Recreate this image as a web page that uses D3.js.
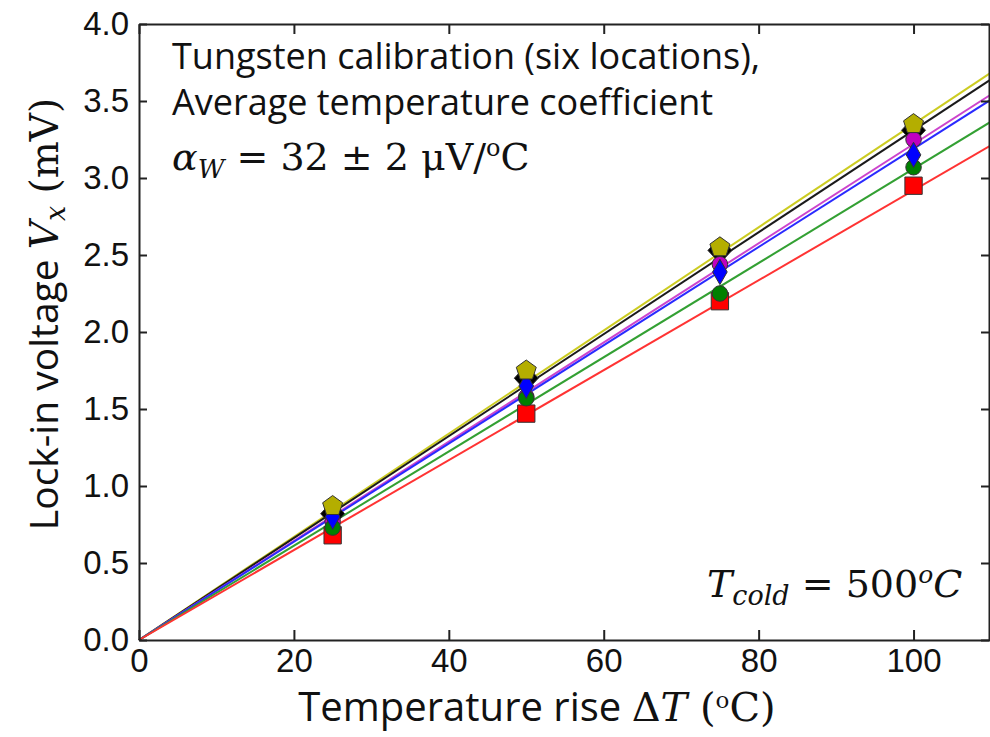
<!DOCTYPE html>
<html>
<head>
<meta charset="utf-8">
<script src="https://cdn.jsdelivr.net/npm/d3@7"></script>
<style>
  body { margin: 0; background: #fff; }
</style>
</head>
<body>
<div id="chart"></div>
<script>
// data
var temps = [25, 50, 75, 100];
var vYellow  = [0.87, 1.75, 2.55, 3.35];
var vBlack   = [0.82, 1.70, 2.53, 3.31];
var vMagenta = [0.77, 1.58, 2.44, 3.25];
var vBlue    = [0.80, 1.65, 2.39, 3.15];
var vGreen   = [0.73, 1.57, 2.25, 3.07];
var vRed     = [0.68, 1.47, 2.20, 2.95];
// fitted slopes (mV per degC) of the lines through the origin
var slopes = [0.0335, 0.0331, 0.0322, 0.0319, 0.0306, 0.0292];
var xTicks = [0, 20, 40, 60, 80, 100];
var yTicks = [0, 0.5, 1.0, 1.5, 2.0, 2.5, 3.0, 3.5, 4.0];

var lineColors = ["#cccc22", "#1a1a1a", "#cc44cc", "#2a2aff", "#33a033", "#ff3333"];
var fillColors = ["#b4ae00", "#000000", "#c000c0", "#0000ff", "#008000", "#ff0000"];
var shapes = ["pentagon", "bigdiamond", "circle", "diamond", "circle", "square"];
var allValues = [vYellow, vBlack, vMagenta, vBlue, vGreen, vRed];
// marker stacking seen in the picture: black under everything, yellow on top
var drawOrder = [1, 2, 5, 4, 3, 0];

var width = 990, height = 737;
var margin = {left: 139, right: 0, top: 24, bottom: 97};

var svg = d3.select("#chart").append("svg")
    .attr("width", width)
    .attr("height", height);

var x = d3.scaleLinear().domain([0, 110]).range([margin.left, 991]);
var y = d3.scaleLinear().domain([0, 4.0]).range([height - margin.bottom, margin.top]);

// fit lines (drawn first, markers on top)
slopes.forEach(function(s, i) {
    svg.append("line")
        .attr("x1", x(0)).attr("y1", y(0))
        .attr("x2", x(110)).attr("y2", y(s * 110))
        .attr("stroke", lineColors[i])
        .attr("stroke-width", 2);
});

// axes box with inward ticks
var fmtY = d3.format(".1f");
var tickFont = "Liberation Sans, Arial, sans-serif";
svg.append("g")
    .attr("transform", "translate(0," + y(0) + ")")
    .call(d3.axisBottom(x).tickValues(xTicks).tickSizeInner(-10).tickSizeOuter(0).tickPadding(9))
    .call(function(g) {
        g.selectAll("text").attr("font-size", 33).attr("font-family", tickFont).attr("fill", "#111");
    });
svg.append("g")
    .attr("transform", "translate(0," + y(4.0) + ")")
    .call(d3.axisTop(x).tickValues(xTicks).tickSizeInner(-10).tickSizeOuter(0).tickFormat(""));
svg.append("g")
    .attr("transform", "translate(" + x(0) + ",0)")
    .call(d3.axisLeft(y).tickValues(yTicks).tickFormat(fmtY).tickSizeInner(-8).tickSizeOuter(0).tickPadding(10))
    .call(function(g) {
        g.selectAll("text").attr("font-size", 33).attr("font-family", tickFont).attr("fill", "#111");
    });
svg.append("g")
    .attr("transform", "translate(" + (width - 1) + ",0)")
    .call(d3.axisRight(y).tickValues(yTicks).tickSizeInner(-8).tickSizeOuter(0).tickFormat(""));

svg.selectAll(".domain").attr("stroke", "#222").attr("stroke-width", 2);
svg.selectAll(".tick line").attr("stroke", "#222").attr("stroke-width", 2);

function pentagonPath(r) {
    var pts = [];
    for (var k = 0; k < 5; k++) {
        var a = -Math.PI / 2 + k * 2 * Math.PI / 5;
        pts.push([r * Math.cos(a), r * Math.sin(a)]);
    }
    return "M" + pts.map(function(p) { return p.join(","); }).join("L") + "Z";
}
function markerPath(shape) {
    if (shape === "pentagon") return pentagonPath(10.5);
    if (shape === "bigdiamond") return "M0,-13L12,0L0,13L-12,0Z";
    if (shape === "diamond") return d3.symbol().type(d3.symbolDiamond).size(185)();
    if (shape === "circle") return d3.symbol().type(d3.symbolCircle).size(190)();
    return d3.symbol().type(d3.symbolSquare).size(300)();
}

drawOrder.forEach(function(i) {
    var vals = allValues[i];
    svg.append("g").selectAll("path")
        .data(temps.map(function(t, j) { return [t, vals[j]]; }))
        .enter().append("path")
        .attr("transform", function(d) { return "translate(" + x(d[0]) + "," + y(d[1]) + ")"; })
        .attr("d", markerPath(shapes[i]))
        .attr("fill", fillColors[i])
        .attr("stroke", "#333")
        .attr("stroke-width", 1);
});

// axis titles
var textFont = "Open Sans, Noto Sans, sans-serif";
var mathFont = "DejaVu Serif, serif";
svg.append("text")
    .attr("x", 537).attr("y", 721)
    .attr("text-anchor", "middle")
    .attr("font-family", textFont)
    .attr("font-size", 40)
    .attr("fill", "#111")
    .html('Temperature rise <tspan font-family="' + mathFont + '">Δ<tspan font-style="italic">T</tspan> (<tspan baseline-shift="super" font-size="23">o</tspan>C)</tspan>');

svg.append("text")
    .attr("transform", "translate(58,314) rotate(-90)")
    .attr("text-anchor", "middle")
    .attr("font-family", textFont)
    .attr("font-size", 39)
    .attr("fill", "#111")
    .html('Lock-in voltage <tspan font-family="' + mathFont + '"><tspan font-style="italic">V</tspan><tspan font-style="italic" font-size="27" dy="7">x</tspan><tspan dy="-7"> (mV)</tspan></tspan>');

// annotations
var note = svg.append("g")
    .attr("font-family", textFont)
    .attr("font-size", 36)
    .attr("fill", "#111");
note.append("text").attr("x", 172).attr("y", 69).text("Tungsten calibration (six locations),");
note.append("text").attr("x", 172).attr("y", 115).text("Average temperature coefficient");
note.append("text").attr("x", 172).attr("y", 170)
    .attr("font-family", mathFont)
    .attr("font-size", 38)
    .html('<tspan font-style="italic">α</tspan><tspan font-style="italic" font-size="26" dy="8">W</tspan><tspan dy="-8"> = 32 ± 2 μV/</tspan><tspan baseline-shift="super" font-size="24">o</tspan>C');

svg.append("text")
    .attr("x", 707).attr("y", 597)
    .attr("font-family", mathFont)
    .attr("font-size", 38)
    .attr("fill", "#111")
    .html('<tspan font-style="italic">T</tspan><tspan font-style="italic" font-size="27" dy="8">cold</tspan><tspan dy="-8"> = 500</tspan><tspan font-style="italic" baseline-shift="super" font-size="25">o</tspan><tspan font-style="italic">C</tspan>');
</script>
</body>
</html>
